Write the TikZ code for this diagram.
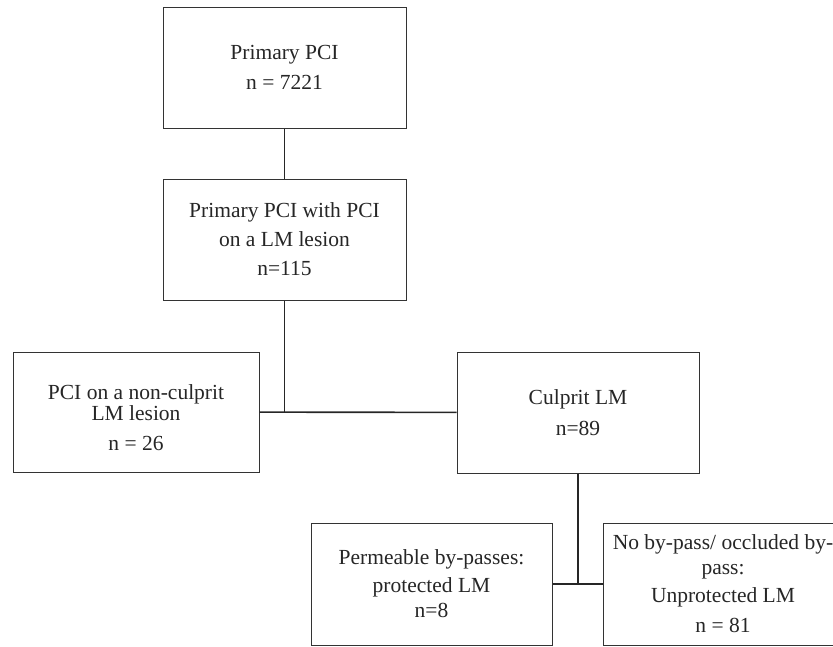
\documentclass[tikz,border=0pt]{standalone}
\usepackage{fontspec}
\setmainfont{Liberation Serif}
\usepackage{tikz}
\usetikzlibrary{calc}

\begin{document}
\begin{tikzpicture}[x=1pt, y=-1pt,
    flowbox/.style={draw=black!80, line width=1pt, text=black!85, align=center,
      minimum width=243pt, minimum height=121pt, inner sep=0pt,
      font=\fontsize{21.5}{28}\selectfont},
    link/.style={draw=black!85, line width=1.6pt}]
  \clip (0,0) rectangle (833,646);

  \node[flowbox] (prim) at (284.5, 67.5) {Primary PCI\\[2pt] n = 7221};
  \node[flowbox] (withlm) at (284.5, 239.5) {Primary PCI with PCI\\[1pt] on a LM lesion\\[1pt] n=115};
  \node[flowbox, minimum width=246pt, minimum height=120pt] (nonculp) at (136, 412)
    {\mbox{}\\[-1pt] PCI on a non-culprit\\[-7pt] LM lesion\\[2pt] n = 26};
  \node[flowbox, minimum width=242pt] (culp) at (578, 412.5) {Culprit LM\\[3pt] n=89};
  \node[flowbox, minimum width=241pt, minimum height=122pt] (protect) at (431.5, 584)
    {Permeable by-passes:\\ protected LM\\[-3pt] n=8};
  \node[flowbox, minimum width=240pt, minimum height=122pt] (unprot) at (723, 584)
    {No by-pass/ occluded by-\\[-3pt] pass:\\ Unprotected LM\\[2pt] n = 81};

  % junctions
  \coordinate (j1) at (withlm.south |- nonculp.east);
  \coordinate (j2) at (culp.south |- protect.east);

  \draw[link] (prim) -- (withlm);
  \draw[link] (withlm) -- (j1);
  \draw[link] (nonculp) -- (culp);
  \draw[link] (culp) -- (j2);
  \draw[link] (protect) -- (unprot);
\end{tikzpicture}
\end{document}
